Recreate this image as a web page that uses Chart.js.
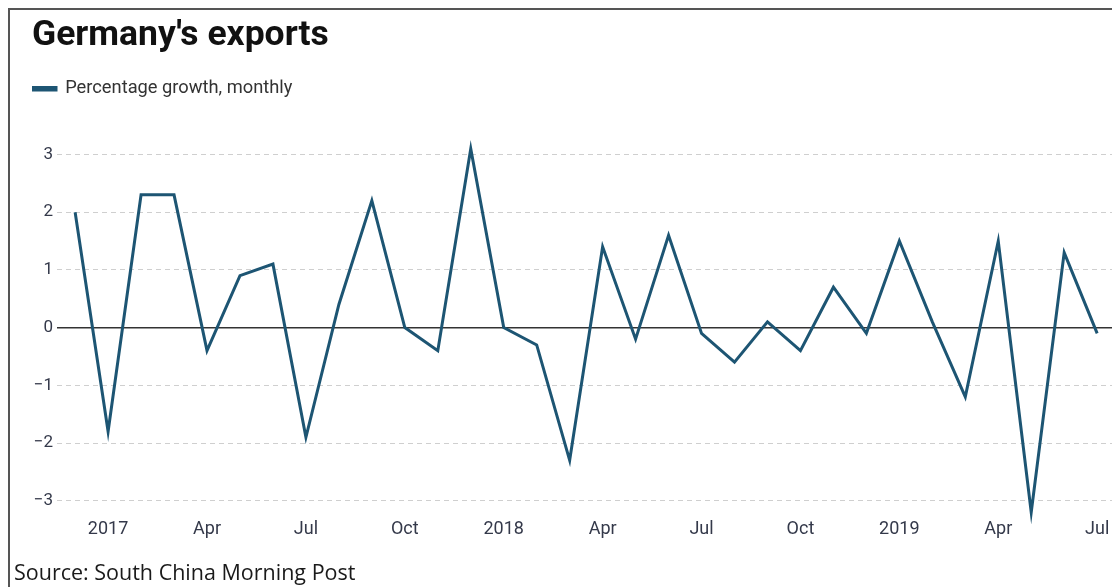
<!DOCTYPE html>
<html>
<head>
<meta charset="utf-8">
<script src="https://cdn.jsdelivr.net/npm/chart.js@4.4.1/dist/chart.umd.min.js"></script>
<style>
  body { margin: 0; background: #fff; }
  #wrap { position: relative; width: 1112px; height: 587px; overflow: hidden; }
  #frame { position: absolute; left: 8px; top: 8px; right: -5px; bottom: -5px;
           border-top: 2px solid #555; border-left: 2px solid #555; }
  #source { position: absolute; left: 14px; top: 557px; font-family: "Open Sans", sans-serif;
            font-size: 21.5px; color: #1a1a1a; }
  canvas { position: absolute; left: 0; top: 0; }
</style>
</head>
<body>
<div id="wrap">
  <div id="frame"></div>
  <canvas id="exportsChart" width="1112" height="587"></canvas>
  <div id="source">Source: South China Morning Post</div>
</div>
<script>
// monthly export growth, Dec 2016 - Jul 2019
var months = [
  '2016-12',
  '2017-01', '2017-02', '2017-03', '2017-04', '2017-05', '2017-06',
  '2017-07', '2017-08', '2017-09', '2017-10', '2017-11', '2017-12',
  '2018-01', '2018-02', '2018-03', '2018-04', '2018-05', '2018-06',
  '2018-07', '2018-08', '2018-09', '2018-10', '2018-11', '2018-12',
  '2019-01', '2019-02', '2019-03', '2019-04', '2019-05', '2019-06',
  '2019-07'
];
var growth = [
  2.0,
  -1.8, 2.3, 2.3, -0.4, 0.9, 1.1,
  -1.9, 0.4, 2.2, 0.0, -0.4, 3.1,
  0.0, -0.3, -2.3, 1.4, -0.2, 1.6,
  -0.1, -0.6, 0.1, -0.4, 0.7, -0.1,
  1.5, 0.1, -1.2, 1.5, -3.2, 1.3,
  -0.1
];
// month number -> axis label ('01' shows the year)
var monthNames = { '04': 'Apr', '07': 'Jul', '10': 'Oct' };
var yTicks = [-3, -2, -1, 0, 1, 2, 3];

var lineColor = '#1d5573';
var tickColor = '#34394a';

function axisLabel(m) {
  var parts = m.split('-');
  if (parts[1] === '01') return parts[0];
  return monthNames[parts[1]] || '';
}

var points = growth.map(function (v, i) { return { x: i, y: v }; });

// extra room under the legend
var legendGap = {
  id: 'legendGap',
  beforeInit: function (chart) {
    var fit = chart.legend.fit;
    chart.legend.fit = function () {
      fit.bind(chart.legend)();
      this.height += 35;
    };
  }
};

var ctx = document.getElementById('exportsChart').getContext('2d');
var chart = new Chart(ctx, {
  type: 'line',
  data: {
    datasets: [{
      label: 'Percentage growth, monthly',
      data: points,
      borderColor: lineColor,
      backgroundColor: lineColor,
      borderWidth: 3,
      pointRadius: 0,
      tension: 0,
      fill: false,
      clip: false
    }]
  },
  plugins: [legendGap],
  options: {
    responsive: false,
    animation: false,
    layout: { padding: { left: 32, right: 0, top: 15, bottom: 45 } },
    plugins: {
      tooltip: { enabled: false },
      title: {
        display: true,
        text: "Germany's exports",
        align: 'start',
        color: '#111',
        font: { family: 'Roboto', size: 35.5, weight: 'bold' },
        padding: { top: 0, bottom: 22 }
      },
      legend: {
        align: 'start',
        labels: {
          boxWidth: 24,
          boxHeight: 2.5,
          color: '#333',
          font: { family: 'Roboto', size: 18.3 },
          padding: 0
        }
      }
    },
    scales: {
      x: {
        type: 'linear',
        min: -0.55,
        max: 31.45,
        grid: { display: false },
        border: { display: false },
        afterBuildTicks: function (scale) {
          var t = [];
          months.forEach(function (m, i) {
            if (axisLabel(m) !== '') t.push({ value: i });
          });
          scale.ticks = t;
        },
        ticks: {
          color: tickColor,
          font: { family: 'Roboto', size: 18 },
          padding: 1.5,
          maxRotation: 0,
          autoSkip: false,
          callback: function (value) { return axisLabel(months[value]); }
        }
      },
      y: {
        min: -3.15,
        max: 3.2,
        afterBuildTicks: function (scale) {
          scale.ticks = yTicks.map(function (v) { return { value: v }; });
        },
        afterFit: function (scale) { scale.width = 25; },
        grid: {
          drawTicks: false,
          lineWidth: function (c) { return c.tick && c.tick.value === 0 ? 1.5 : 1; },
          color: function (c) { return c.tick && c.tick.value === 0 ? '#333' : '#cfcfcf'; }
        },
        border: {
          display: false,
          dash: function (c) { return c.tick && c.tick.value === 0 ? [] : [5, 4]; }
        },
        ticks: {
          color: tickColor,
          font: { family: 'Roboto', size: 17 },
          padding: 4,
          callback: function (value) { return String(value).replace('-', '\u2212'); }
        }
      }
    }
  }
});
</script>
</body>
</html>
